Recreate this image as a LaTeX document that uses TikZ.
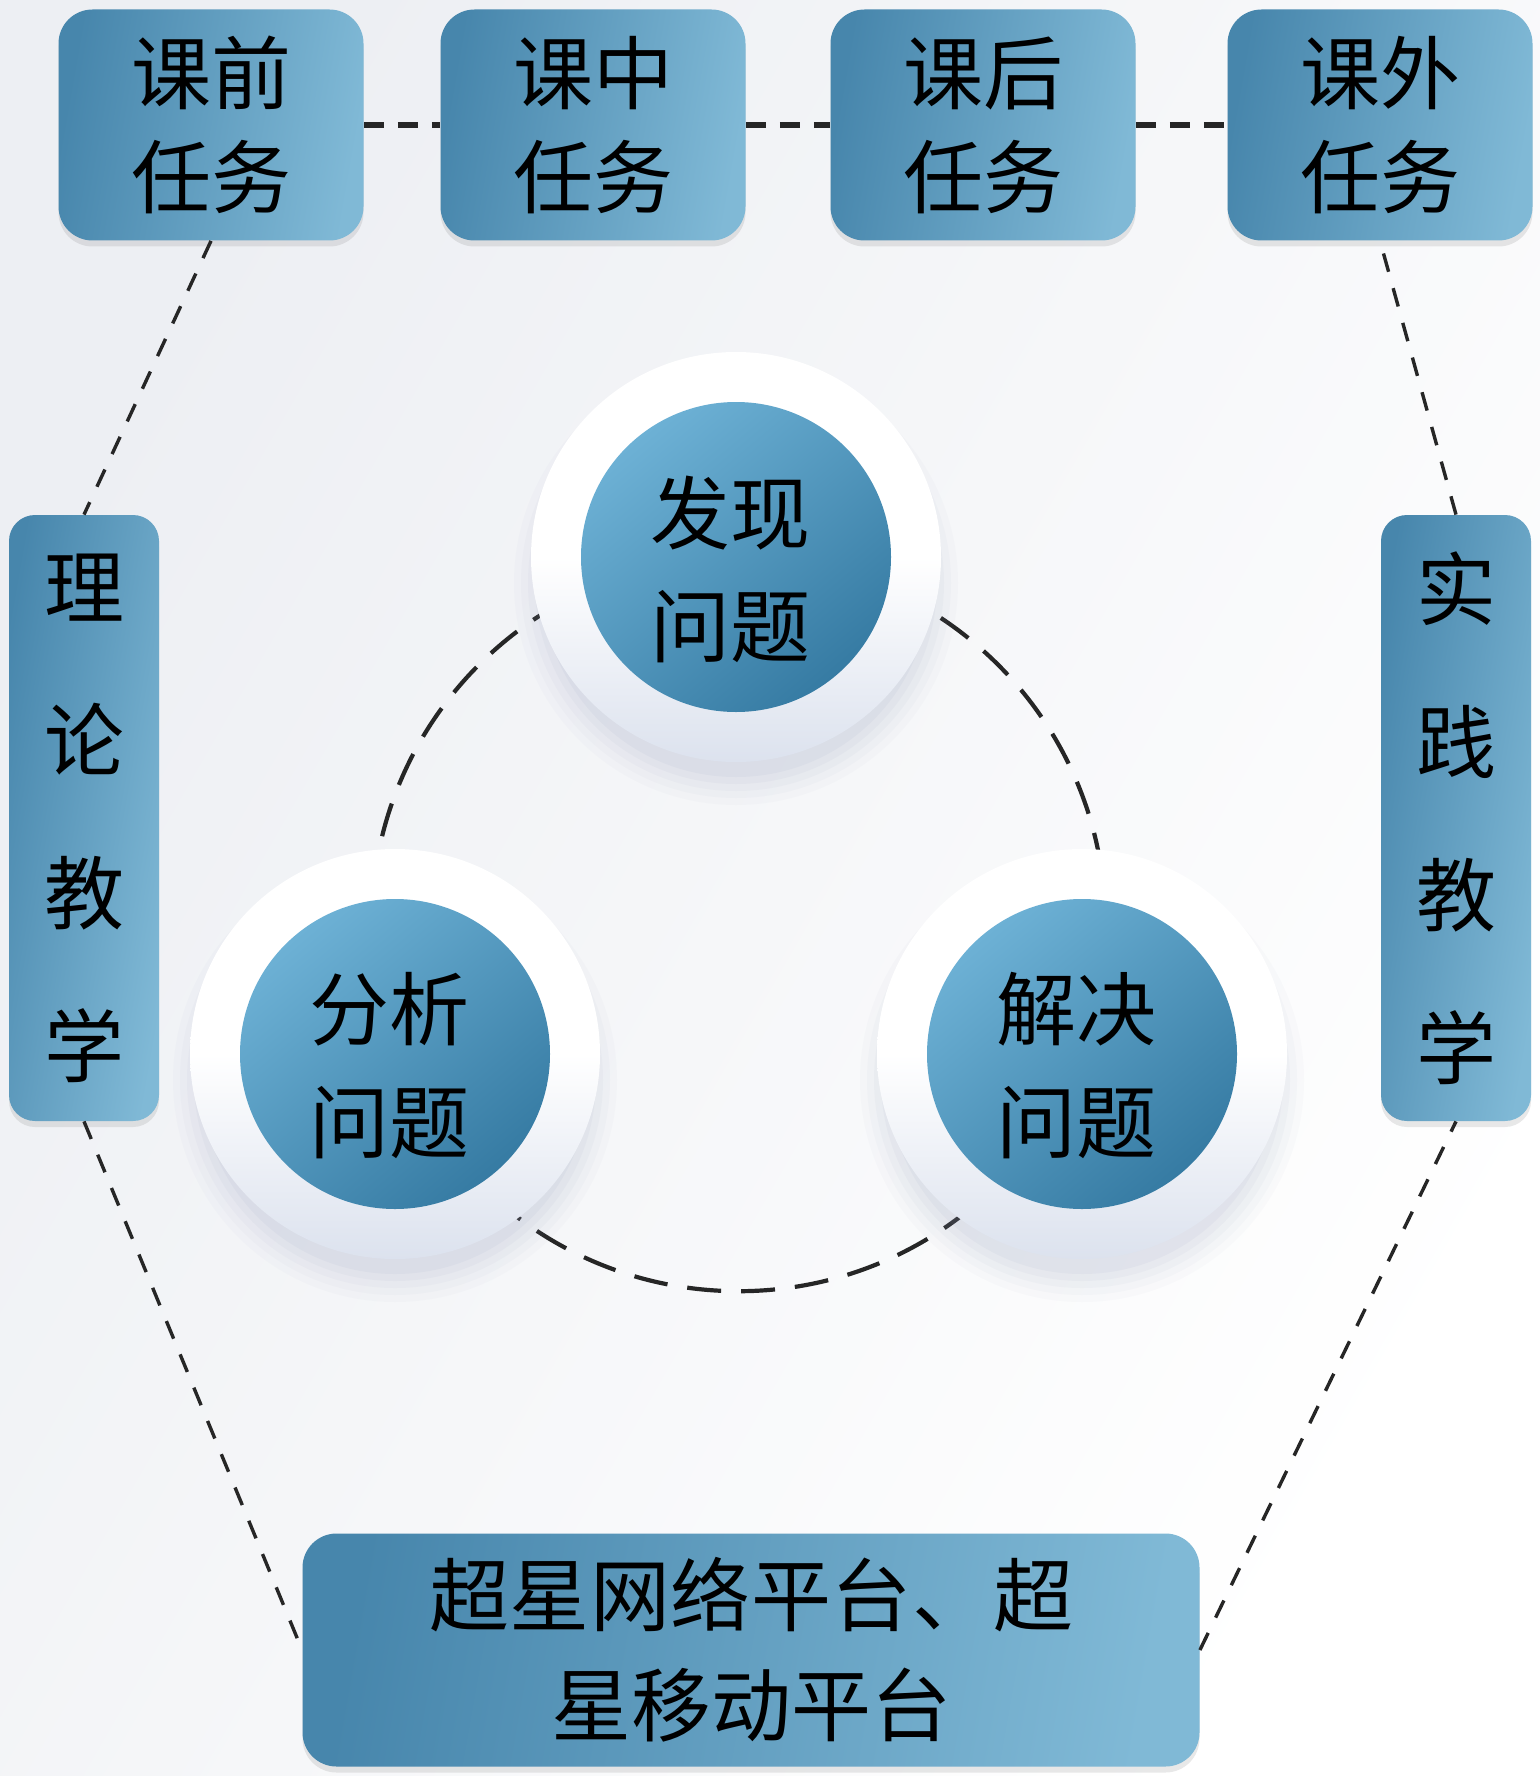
\documentclass[tikz,border=0pt]{standalone}
\usepackage{fontspec}
\newfontfamily\cjk{Noto Sans CJK SC}
\usetikzlibrary{calc,shadows}
\definecolor{bxdark}{HTML}{4786AC}
\definecolor{bxlight}{HTML}{80B9D6}
\definecolor{bldark}{HTML}{367BA3}
\definecolor{bllight}{HTML}{6DB1D5}
\definecolor{ringbot}{HTML}{DCE2EE}
\definecolor{shd}{HTML}{8A93B8}
\definecolor{bgleft}{HTML}{EDEFF3}
\begin{document}
\begin{tikzpicture}[x=0.5pt,y=-0.5pt,
  txt/.style={font=\cjk\fontsize{40pt}{52pt}\selectfont, text=black, align=center, inner sep=0pt},
  boxbase/.style={txt, rounded corners=17pt, left color=bxdark, right color=bxlight, shading angle=80,
     drop shadow={opacity=0.18, shadow xshift=0pt, shadow yshift=-3pt}},
  taskbox/.style={boxbase, minimum width=152.5pt, minimum height=115.5pt},
  sidebox/.style={boxbase, rounded corners=13pt, minimum width=75pt, minimum height=303pt, font=\cjk\fontsize{40pt}{76.5pt}\selectfont},
  platbox/.style={boxbase, minimum width=448.5pt, minimum height=116.5pt, font=\cjk\fontsize{40pt}{55pt}\selectfont},
  ringout/.style={circle, minimum size=205pt, inner sep=0pt, top color=white, bottom color=ringbot, middle color=white},
  ballin/.style={circle, inner sep=0pt, minimum size=155pt, top color=bllight, bottom color=bldark, shading angle=40},
  balltxt/.style={txt, font=\cjk\fontsize{40pt}{56.5pt}\selectfont},
  outerdash/.style={line width=1.7pt, dash pattern=on 9.5pt off 8.5pt, black!85},
  topdash/.style={line width=3pt, dash pattern=on 10pt off 7pt, black!85},
  ringdash/.style={line width=2.1pt, dash pattern=on 17pt off 10pt, black!85}
]
\useasboundingbox (0,0) rectangle (1540,1776);
\shade[left color=bgleft, right color=white, shading angle=60] (0,0) rectangle (1540,1776);

% circle centres
\coordinate (p1) at (736,557);
\coordinate (p2) at (395,1054);
\coordinate (p3) at (1082,1054);

% dashed ring behind the circles
\draw[ringdash] (738.5,924.2) circle[radius=367];

% soft shadows
\foreach \p in {p1,p2,p3}{
  \foreach \r/\o in {222/0.03,215/0.04,208/0.05,201/0.06,194/0.07}{
    \fill[shd, opacity=\o] ($(\p)+(0,26)$) circle[radius=\r];
  }
}

% white rings
\node[ringout] (r1) at (p1) {};
\node[ringout] (r2) at (p2) {};
\node[ringout] (r3) at (p3) {};

% inner balls and their texts
\node[ballin] (c1) at (p1) {};
\node[balltxt] (c1t) at ($(c1.center)+(-6,12)$) {发现\\问题};
\node[ballin] (c2) at (p2) {};
\node[balltxt] (c2t) at ($(c2.center)+(-6,12)$) {分析\\问题};
\node[ballin] (c3) at (p3) {};
\node[balltxt] (c3t) at ($(c3.center)+(-6,12)$) {解决\\问题};

% top task boxes
\node[taskbox] (t1) at (211,125) {课前\\任务};
\node[taskbox] (t2) at (593,125) {课中\\任务};
\node[taskbox] (t3) at (983,125) {课后\\任务};
\node[taskbox] (t4) at (1380,125) {课外\\任务};

% side boxes
\node[sidebox] (L) at (84,818) {理\\论\\教\\学};
\node[sidebox] (R) at (1456,818) {实\\践\\教\\学};

% bottom platform box
\node[platbox] (B) at (751,1650) {\makebox[322pt][s]{超\hfill 星\hfill 网\hfill 络\hfill 平\hfill 台\hfill 、\hfill 超}\\星移动平台};

% connectors
\draw[topdash] (t1) -- (t2);
\draw[topdash] (t2) -- (t3);
\draw[topdash] (t3) -- (t4);
\draw[outerdash] (t1.south) -- (L.north);
\draw[outerdash] (L.south) -- (B.west);
\draw[outerdash] (B.east) -- (R.south);
\draw[outerdash] (R.north) -- (t4.south);
\end{tikzpicture}
\end{document}
